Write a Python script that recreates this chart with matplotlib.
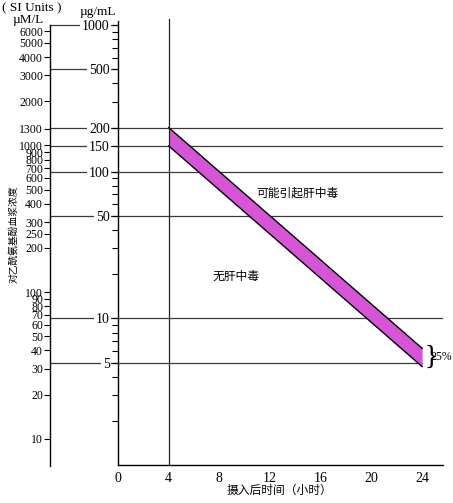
import numpy as np
import matplotlib
matplotlib.use('Agg')
import matplotlib.pyplot as plt
from matplotlib.ticker import LogLocator, NullLocator, NullFormatter

# 数据
hours = [0, 4, 8, 12, 16, 20, 24]
band_t = [4, 24]
band_upper = [200, 6.25]      # µg/mL
band_lower = [150, 4.69]
ug_labels = [1000, 500, 200, 150, 100, 50, 10, 5]
ug_lines_full = [200, 150, 100, 50, 10]
ug_lines_left = [1000, 500, 200, 150, 100, 50, 10, 5]
ug_line_to24 = [5]
um_ticks = [6000, 5000, 4000, 3000, 2000, 1300, 1000, 900, 800, 700, 600,
            500, 400, 300, 250, 200, 100, 90, 80, 70, 60, 50, 40, 30, 20, 10]
factor = 6.62   # µg/mL -> µM/L

serif = 'Liberation Serif'
cjk = ['Noto Sans CJK SC', 'DejaVu Sans']
line_c = '#3a3a3a'
fill_c = '#d655d6'

W, H = 453, 503
fig = plt.figure(figsize=(W / 100, H / 100), dpi=100)

ymin, ymax = 1, 1100

# 左侧 µM/L 轴
axl = fig.add_axes([50 / W, 38 / H, 68 / W, 446 / H])
axl.set_yscale('log')
axl.set_ylim(ymin * factor, ymax * factor)
axl.set_xlim(0, 1)
axl.patch.set_visible(False)
for s in ['top', 'right', 'bottom']:
    axl.spines[s].set_visible(False)
axl.spines['left'].set_bounds(ymin * factor * 0.99, 1000 * factor)
axl.spines['left'].set_linewidth(1)
axl.set_xticks([])
axl.set_yticks(um_ticks)
axl.set_yticklabels([str(v) for v in um_ticks], fontfamily=serif, fontsize=8.5)
axl.yaxis.set_minor_locator(NullLocator())
axl.yaxis.set_minor_formatter(NullFormatter())
axl.tick_params(axis='y', direction='out', length=4, width=0.8, pad=1)
for v in ug_lines_left:
    axl.plot([0, 1], [v * factor] * 2, color=line_c, lw=0.9, clip_on=False)

# 主轴 µg/mL
ax = fig.add_axes([118 / W, 38 / H, 325 / W, 446 / H])
ax.set_yscale('log')
ax.set_ylim(ymin, ymax)
ax.set_xlim(0, 25.65)
ax.patch.set_visible(False)
for s in ['top', 'right']:
    ax.spines[s].set_visible(False)
ax.spines['left'].set_bounds(ymin, 1060)
ax.spines['left'].set_linewidth(1)
ax.spines['bottom'].set_linewidth(1)

ax.set_yticks(ug_labels)
ax.set_yticklabels([str(v) for v in ug_labels], fontfamily=serif, fontsize=10)
ax.yaxis.set_minor_locator(LogLocator(base=10, subs=np.arange(2, 10)))
ax.yaxis.set_minor_formatter(NullFormatter())
ax.tick_params(axis='y', which='both', direction='out', length=4, width=0.8, pad=2)
for lab in ax.get_yticklabels():
    lab.set_bbox(dict(facecolor='white', edgecolor='none', pad=1.2))

ax.set_xticks(hours)
ax.set_xticklabels([str(h) for h in hours], fontfamily=serif, fontsize=10)
ax.tick_params(axis='x', length=0, pad=5)

for v in ug_lines_full:
    ax.axhline(v, color=line_c, lw=0.9, zorder=1)
for v in ug_line_to24:
    ax.plot([0, 24], [v, v], color=line_c, lw=0.9, zorder=1)

ax.axvline(4, color='#222222', lw=0.9, zorder=4)

# 治疗线带
ax.fill_between(band_t, band_lower, band_upper, color=fill_c, lw=0, zorder=2)
ax.plot(band_t, band_upper, color='black', lw=1, zorder=3)
ax.plot(band_t, band_lower, color='black', lw=1, zorder=3)

ax.text(14.2, 72, '可能引起肝中毒', family=cjk, fontsize=8.5, ha='center', va='center')
ax.text(9.3, 19.5, '无肝中毒', family=cjk, fontsize=8.5, ha='center', va='center')

mid = np.sqrt(band_upper[1] * band_lower[1])
ax.text(24.15, mid, '}', fontfamily=serif, fontsize=20, ha='left', va='center')
ax.text(24.7, mid, '25%', fontfamily=serif, fontsize=8.5, ha='left', va='center')

fig.text(280 / W, 1 - 490 / H, '摄入后时间（小时）', family=cjk, fontsize=8.5,
         ha='center', va='center')
fig.text(13 / W, 1 - 234 / H, '对乙酰氨基酚血浆浓度', family=cjk, fontsize=7,
         rotation=90, ha='center', va='center')
fig.text(2 / W, 1 - 8 / H, '( SI Units )', fontfamily=serif, fontsize=9.5,
         ha='left', va='center')
fig.text(28 / W, 1 - 20 / H, 'µM/L', fontfamily=serif, fontsize=9.5,
         ha='center', va='center')
fig.text(98 / W, 1 - 12 / H, 'µg/mL', fontfamily=serif, fontsize=9.5,
         ha='center', va='center')

fig.savefig('out.png', dpi=100)
